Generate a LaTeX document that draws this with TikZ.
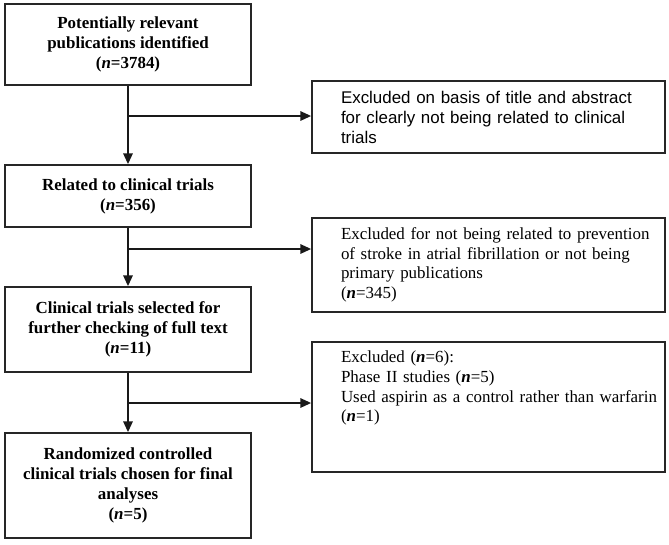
\documentclass[tikz,border=0pt]{standalone}
\usepackage{fontspec}
\setmainfont{Liberation Serif}
\newfontfamily\arialfont{Liberation Sans}
\usetikzlibrary{arrows.meta}

\tikzset{
  stagebox/.style={draw=black!85,line width=1.3pt,minimum width=184.5pt,align=center,
    inner sep=2pt,font=\fontsize{12.7}{15}\selectfont\bfseries},
  exbox/.style={draw=black!85,line width=1.3pt,minimum width=264.75pt,text width=256.75pt,
    inner xsep=4pt,align=left,font=\fontsize{12.7}{14.7}\selectfont,
    execute at begin node={\leftskip=17.75pt\hyphenpenalty=10000}},
  flow/.style={line width=1.3pt,draw=black!90},
  tip/.style={-{Triangle[length=8pt,width=7pt]}}
}

\begin{document}
\begin{tikzpicture}[x=0.75pt,y=-0.75pt]
\useasboundingbox (0,0) rectangle (669,544);

%% main stages, left column
\node (s1) at (128,44.5) [stagebox,minimum height=60.75pt] {Potentially relevant\\ publications identified\\ (\textit{n}=3784)};
\node (s2) at (128,196) [stagebox,minimum height=46.5pt] {Related to clinical trials\\ (\textit{n}=356)};
\node (s3) at (128,329.5) [stagebox,minimum height=63.75pt] {Clinical trials selected for\\ further checking of full text\\ (\textit{n}=11)};
\node (s4) at (128,485.5) [stagebox,minimum height=78.75pt] {Randomized controlled\\ clinical trials chosen for final\\ analyses\\ (\textit{n}=5)};

%% exclusions, right column
\node (ex1) at (488.5,117) [exbox,minimum height=54pt,font=\fontsize{12.7}{15}\arialfont] {Excluded on basis of title and abstract\\ for clearly not being related to clinical\\ trials};
\node (ex2) at (488.5,265) [exbox,minimum height=70.5pt] {Excluded for not being related to prevention\\ of stroke in atrial fibrillation or not being\\ primary publications\\ (\textbf{\textit{n}}=345)};
\node (ex3) at (488.5,407) [exbox,minimum height=97.5pt,text depth=75pt] {Excluded (\textbf{\textit{n}}=6):\\ Phase II studies (\textbf{\textit{n}}=5)\\ Used aspirin as a control rather than warfarin\\ (\textbf{\textit{n}}=1)};

%% junctions
\coordinate (j1) at (128,116);
\coordinate (j2) at (128,249);
\coordinate (j3) at (128,403);

\draw[flow,tip] (s1) -- (s2);
\draw[flow,tip] (s2) -- (s3);
\draw[flow,tip] (s3) -- (s4);
\draw[flow,tip] (j1) -- (j1 -| ex1.west);
\draw[flow,tip] (j2) -- (j2 -| ex2.west);
\draw[flow,tip] (j3) -- (j3 -| ex3.west);

\end{tikzpicture}
\end{document}
